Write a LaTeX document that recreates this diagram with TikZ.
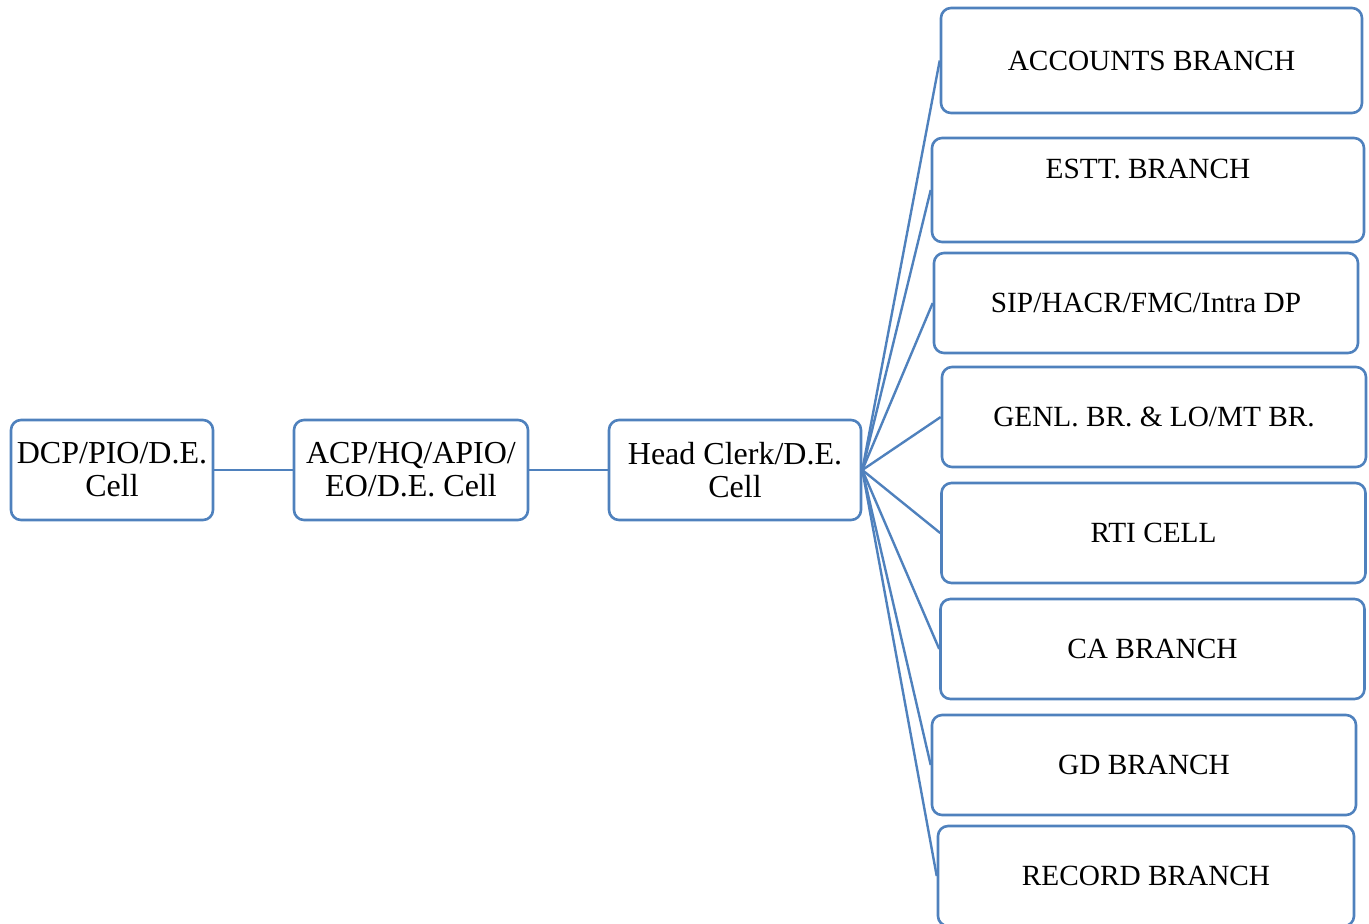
\documentclass[tikz,border=0pt]{standalone}
\usepackage{fontspec}
\setmainfont{Liberation Serif}
\definecolor{cellblue}{RGB}{79,129,189}

\begin{document}
\begin{tikzpicture}[
    x=0.5pt,y=-0.5pt,
    cell/.style={draw=cellblue,line width=1.3pt,rounded corners=5pt,
        align=center,inner sep=0pt,minimum height=50pt,
        font=\fontsize{16}{16.5}\selectfont},
    branch/.style={cell,minimum width=212pt,
        font=\fontsize{14.65}{16.5}\selectfont},
    link/.style={draw=cellblue,line width=1.2pt},
    ]
    % Page frame
    \useasboundingbox (0,0) rectangle (1369,923);
    % Chain of officers
    \node[cell,minimum width=101pt] (dcp)  at (112,470) {DCP/PIO/D.E.\\Cell};
    \node[cell,minimum width=117pt] (acp)  at (411,470) {ACP/HQ/APIO/\\EO/D.E. Cell};
    \node[cell,minimum width=126pt] (head) at (735,470) {Head Clerk/D.E.\\Cell};
    % Branches
    \node[branch,minimum width=210.5pt,minimum height=52.5pt] (acc)
        at (1151.5,60.5) {ACCOUNTS BRANCH};
    \node[branch,minimum width=216pt,minimum height=52pt] (estt)
        at (1148,190) {ESTT. BRANCH\\\strut};
    \node[branch] (sip)  at (1146,303)   {SIP/HACR/FMC/Intra DP};
    \node[branch] (genl) at (1154,417)   {GENL. BR. \& LO/MT BR.};
    \node[branch] (rti)  at (1153.5,533) {RTI CELL};
    \node[branch] (ca)   at (1152.5,649) {CA BRANCH};
    \node[branch] (gd)   at (1144,765)   {GD BRANCH};
    \node[branch,minimum width=208pt] (rec) at (1146,876) {RECORD BRANCH};
    % Links
    \draw[link] (dcp) -- (acp);
    \draw[link] (acp) -- (head);
    \foreach \b in {acc,estt,sip,genl,rti,ca,gd,rec}
        \draw[link] (head.east) -- (\b.west);
\end{tikzpicture}
\end{document}
